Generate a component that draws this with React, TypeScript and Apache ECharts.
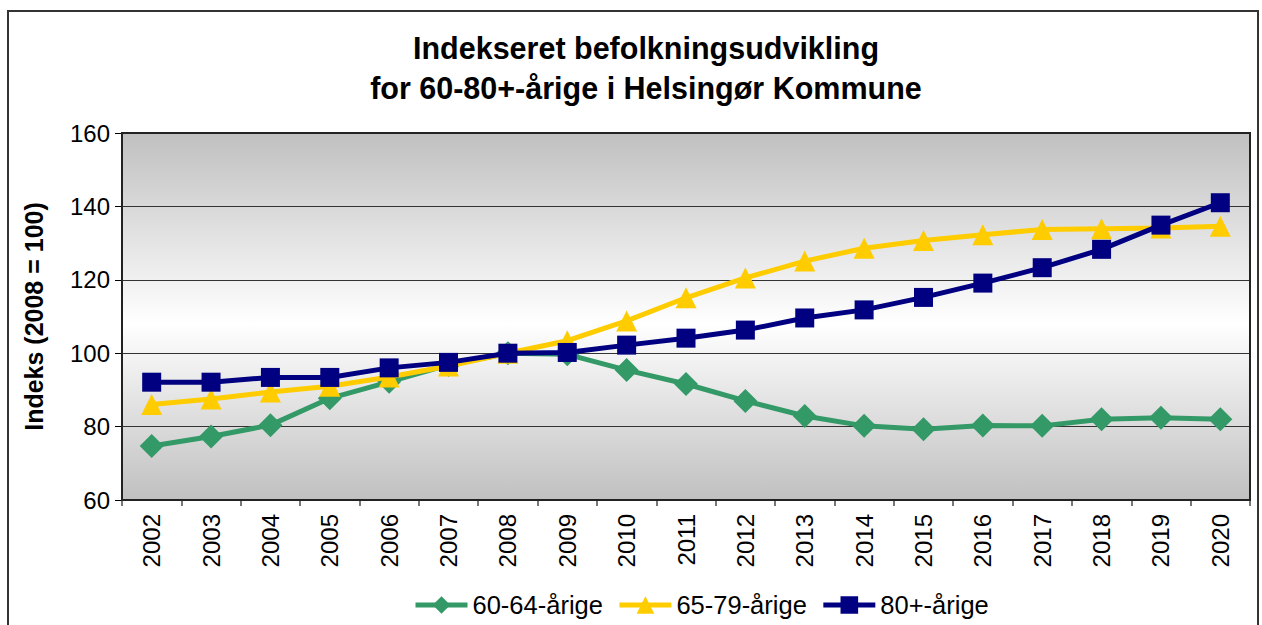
import React, { useEffect, useRef } from "react";
import * as echarts from "echarts";

const years = ["2002","2003","2004","2005","2006","2007","2008","2009","2010","2011","2012","2013","2014","2015","2016","2017","2018","2019","2020"];
const age6064 = [74.7, 77.3, 80.4, 87.7, 92.2, 96.8, 100, 99.7, 95.4, 91.6, 87.0, 82.9, 80.2, 79.3, 80.3, 80.2, 82.0, 82.4, 82.0];
const age6579 = [86.0, 87.5, 89.4, 91.0, 93.5, 96.5, 100, 103.4, 108.8, 115.1, 120.5, 125.1, 128.6, 130.7, 132.3, 133.7, 133.9, 134.1, 134.6];
const age80 = [92.1, 92.1, 93.4, 93.4, 96.0, 97.5, 100, 100.2, 102.2, 104.1, 106.3, 109.6, 111.8, 115.2, 119.1, 123.3, 128.3, 134.9, 141.0];
const seriesNames = ["60-64-årige", "65-79-årige", "80+-årige"];
const titleText = "Indekseret befolkningsudvikling\nfor 60-80+-årige i Helsingør Kommune";
const yAxisName = "Indeks (2008 = 100)";

const FONT = "'Liberation Sans', Arial, sans-serif";

export default function App() {
  const ref = useRef<HTMLDivElement>(null);
  useEffect(() => {
    if (!ref.current) return;
    const chart = echarts.init(ref.current, undefined, { renderer: "svg" });
    chart.setOption({
      animation: false,
      backgroundColor: "#ffffff",
      textStyle: { fontFamily: FONT },
      title: {
        text: titleText,
        left: 641,
        top: 23,
        textAlign: "center",
        textStyle: { fontFamily: FONT, fontSize: 30.5, fontWeight: "bold", color: "#000", lineHeight: 40 },
      },
      graphic: [
        {
          type: "rect",
          shape: { x: 8, y: 11, width: 1250, height: 700 },
          style: { fill: "none", stroke: "#333", lineWidth: 2 },
          silent: true,
        },
        {
          type: "rect",
          shape: { x: 122, y: 133, width: 1128, height: 367 },
          style: { fill: "none", stroke: "#222", lineWidth: 2 },
          silent: true,
          z: 1,
        },
      ],
      legend: {
        data: seriesNames,
        bottom: 2,
        left: 408,
        itemWidth: 52,
        itemHeight: 22,
        itemGap: 14,
        lineStyle: { width: 5 },
        textStyle: { fontFamily: FONT, fontSize: 25.5, color: "#000" },
      },
      grid: {
        left: 122,
        right: 12,
        top: 133,
        bottom: 125,
        show: true,
        borderWidth: 0,
        backgroundColor: new echarts.graphic.LinearGradient(0, 0, 0, 1, [
          { offset: 0, color: "#c0c0c0" },
          { offset: 0.52, color: "#ffffff" },
          { offset: 1, color: "#c0c0c0" },
        ]),
      },
      xAxis: {
        type: "category",
        data: years,
        boundaryGap: true,
        axisLine: { show: true, lineStyle: { color: "#000", width: 2 } },
        axisTick: { show: true, length: 6, lineStyle: { color: "#777", width: 2 } },
        axisLabel: { rotate: 90, fontSize: 24, color: "#000", margin: 14, fontFamily: FONT },
      },
      yAxis: {
        type: "value",
        min: 60,
        max: 160,
        interval: 20,
        name: yAxisName,
        nameLocation: "middle",
        nameGap: 76,
        nameTextStyle: { fontFamily: FONT, fontSize: 25, fontWeight: "bold", color: "#000" },
        axisLine: { show: true, lineStyle: { color: "#000", width: 2 } },
        axisTick: { show: true, length: 7, lineStyle: { color: "#000", width: 1 } },
        axisLabel: { fontSize: 24, color: "#000", margin: 12, fontFamily: FONT },
        splitLine: { show: true, lineStyle: { color: "#333", width: 1 } },
      },
      series: [
        {
          name: seriesNames[0],
          type: "line",
          data: age6064,
          symbol: "diamond",
          symbolSize: 24,
          itemStyle: { color: "#339966" },
          lineStyle: { color: "#339966", width: 5 },
          z: 3,
        },
        {
          name: seriesNames[1],
          type: "line",
          data: age6579,
          symbol: "triangle",
          symbolSize: 21,
          itemStyle: { color: "#FFCC00" },
          lineStyle: { color: "#FFCC00", width: 5 },
          z: 4,
        },
        {
          name: seriesNames[2],
          type: "line",
          data: age80,
          symbol: "rect",
          symbolSize: 19,
          itemStyle: { color: "#000080" },
          lineStyle: { color: "#000080", width: 5 },
          z: 5,
        },
      ],
    });
    return () => chart.dispose();
  }, []);
  return (
    <div
      ref={ref}
      style={{ position: "fixed", left: 0, top: 0, width: 1262, height: 625 }}
    />
  );
}
